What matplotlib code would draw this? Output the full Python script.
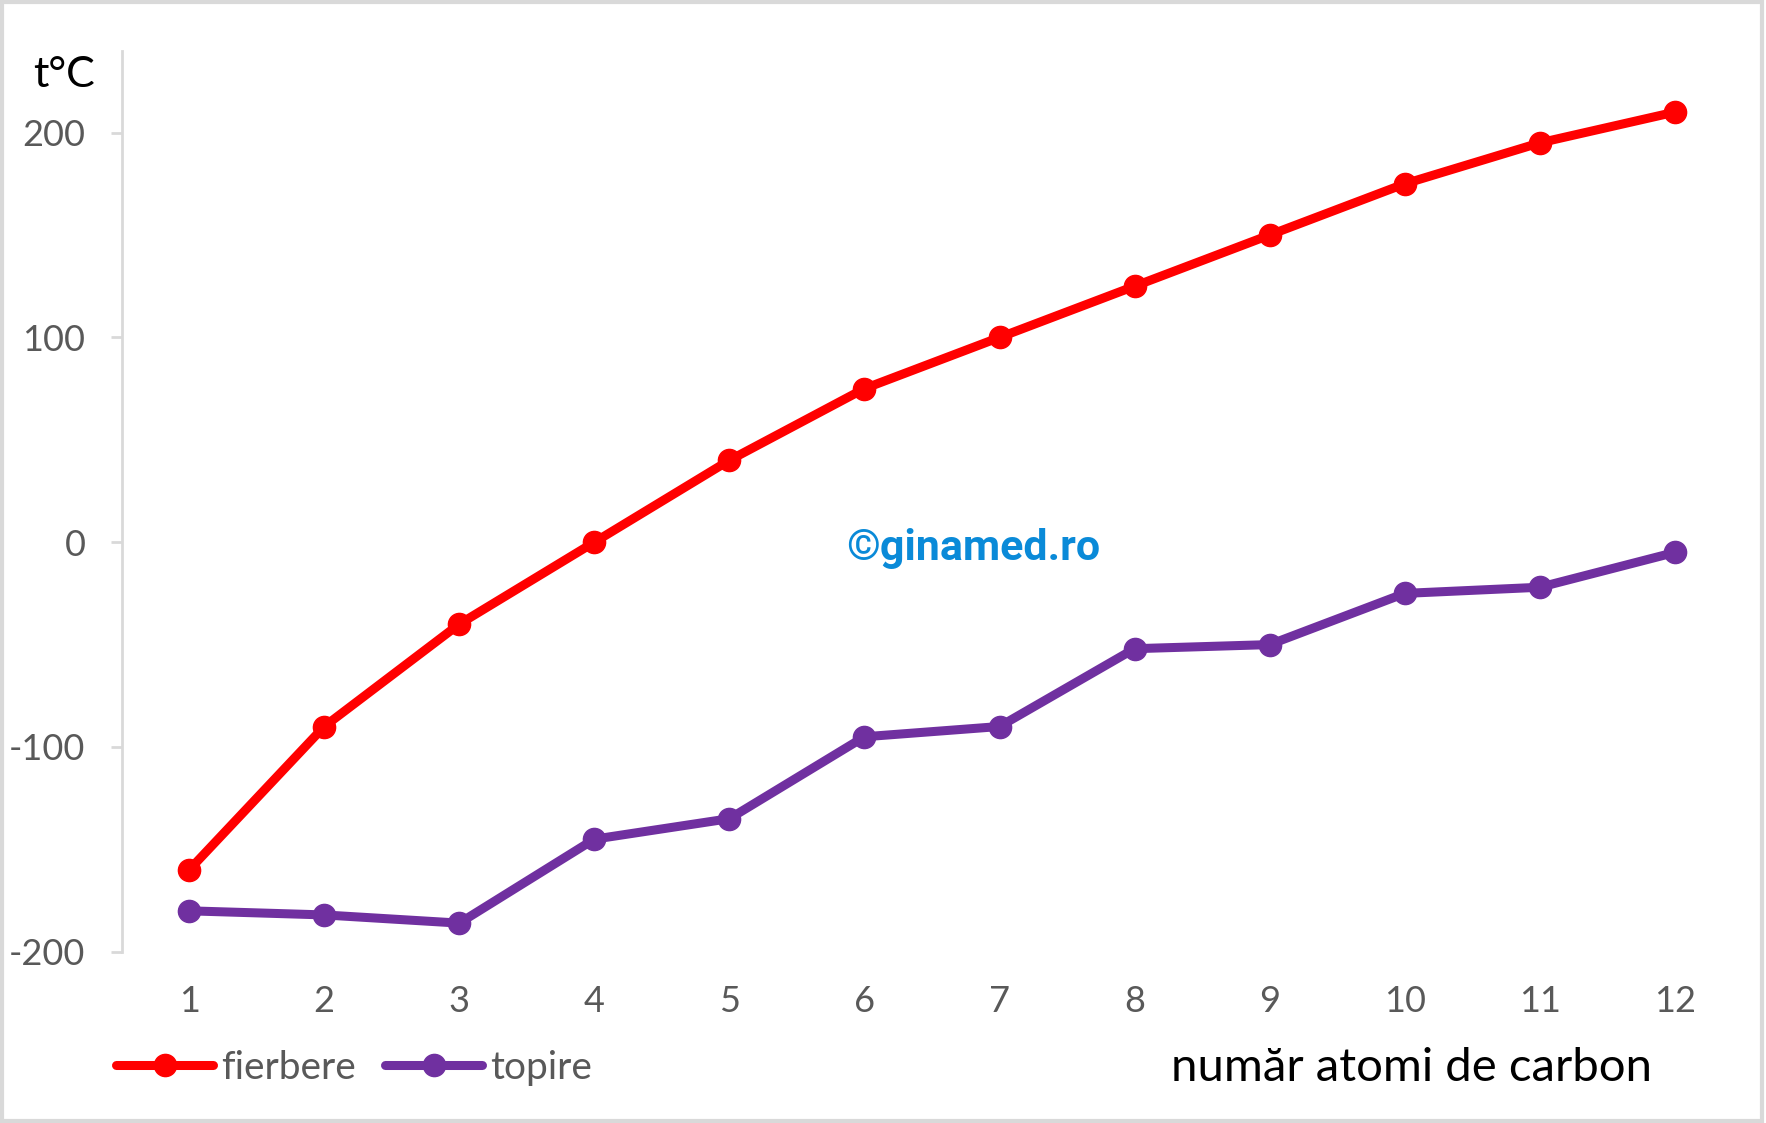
import matplotlib
matplotlib.use("Agg")
import matplotlib.pyplot as plt
from matplotlib.patches import Rectangle

atomi = [1, 2, 3, 4, 5, 6, 7, 8, 9, 10, 11, 12]
fierbere = [-160, -90, -40, 0, 40, 75, 100, 125, 150, 175, 195, 210]
topire = [-180, -182, -186, -145, -135, -95, -90, -52, -50, -25, -22, -5]
y_ticks = [-200, -100, 0, 100, 200]

plt.rcParams['font.family'] = ['Lato', 'DejaVu Sans']

W, H = 1568.0, 997.0
fig = plt.figure(figsize=(17.66, 11.23), dpi=100)
ax = fig.add_axes([108 / W, 1 - 845 / H, (1547 - 108) / W, (845 - 45) / H])

ax.plot(atomi, fierbere, color='#ff0000', lw=6.5, marker='o', ms=16, label='fierbere',
        solid_joinstyle='round', solid_capstyle='round')
ax.plot(atomi, topire, color='#7030a0', lw=6.5, marker='o', ms=16, label='topire',
        solid_joinstyle='round', solid_capstyle='round')

ax.set_xlim(0.5, 12.5)
ax.set_ylim(-200, 240)
ax.set_xticks(atomi)
ax.set_xticklabels([str(a) for a in atomi])
ax.set_yticks(y_ticks)
ax.set_yticklabels([str(v) for v in y_ticks])

for s in ['top', 'right', 'bottom']:
    ax.spines[s].set_visible(False)
ax.spines['left'].set_color('#d9d9d9')
ax.spines['left'].set_linewidth(2)
ax.tick_params(axis='y', colors='#595959', labelsize=26, length=8, width=2, pad=18)
ax.tick_params(axis='y', which='both', color='#d9d9d9')
ax.tick_params(axis='x', colors='#595959', labelsize=26, length=0, pad=24)
for lab in ax.get_yticklabels() + ax.get_xticklabels():
    lab.set_color('#595959')

fig.text(57 / W, 1 - 67 / H, 't°C', fontsize=31, color='black', ha='center', va='center')
fig.text(1467 / W, 1 - 948 / H, 'număr atomi de carbon', fontsize=34, color='black',
         ha='right', va='center')
fig.text(864 / W, 1 - 487 / H, '©ginamed.ro', fontsize=31, color='#0a8ad8',
         fontweight='bold', ha='center', va='center', family=['Roboto', 'DejaVu Sans'])

leg = fig.legend(loc='center left', bbox_to_anchor=(103 / W, 1 - 948 / H), ncol=2,
                 frameon=False, fontsize=28, handlelength=2.5, handletextpad=0.2,
                 columnspacing=0.75, borderpad=0, borderaxespad=0)
for t in leg.get_texts():
    t.set_color('#595959')

fig.patches.append(Rectangle((0.001, 0.002), 0.997, 0.996, transform=fig.transFigure,
                             fill=False, edgecolor='#d9d9d9', linewidth=3))

fig.savefig('out.png', dpi=100, facecolor='white')
